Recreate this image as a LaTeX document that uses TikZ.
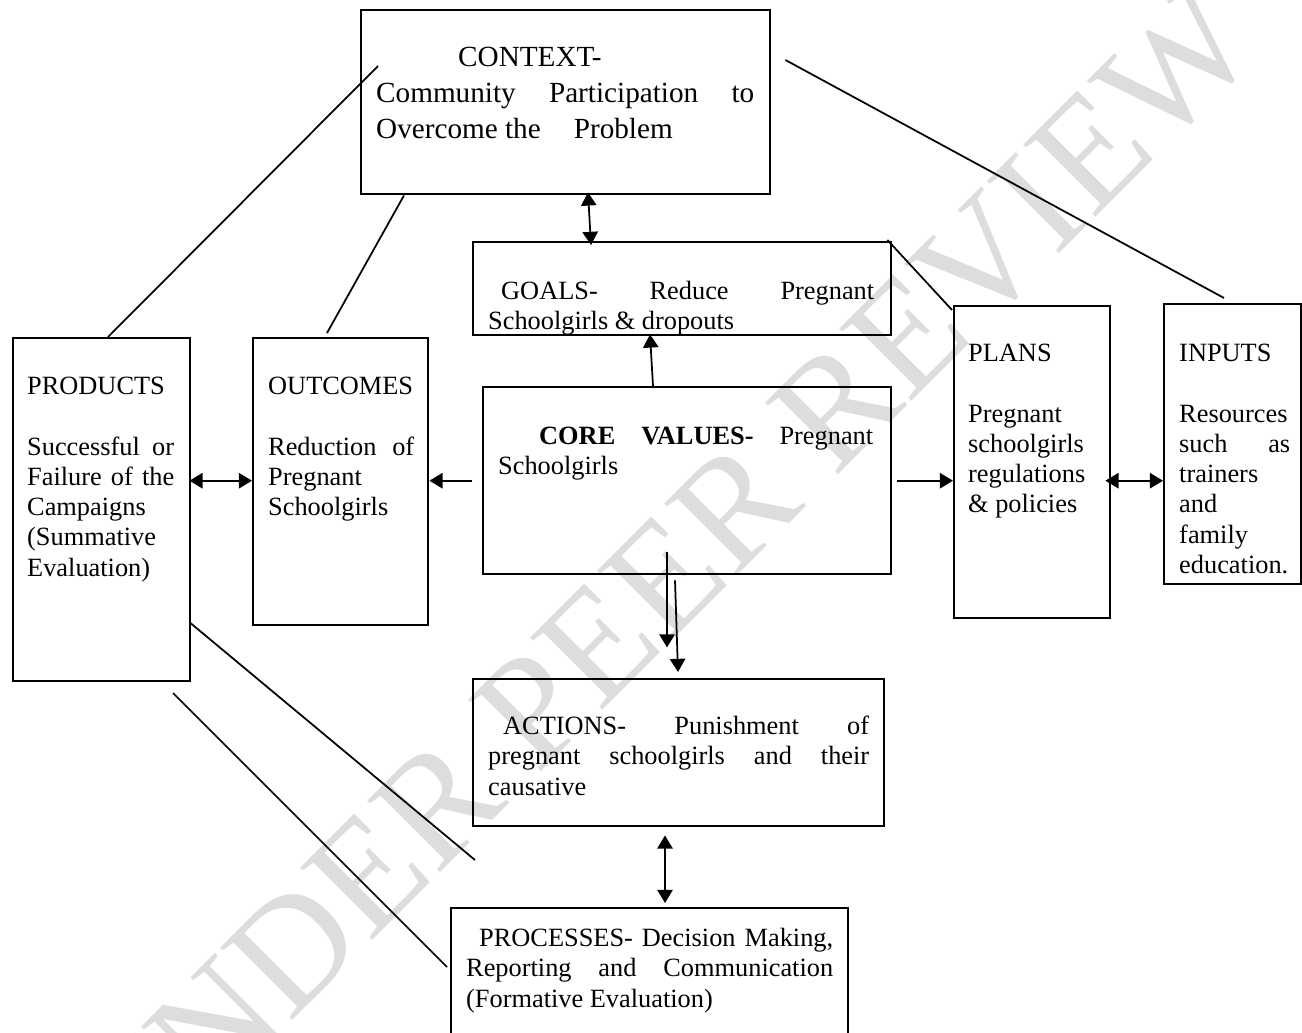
\documentclass[tikz,border=0pt]{standalone}
\usepackage{fontspec}
\setmainfont{Liberation Serif}
\usetikzlibrary{arrows.meta, calc}

\newdimen\px \px=0.016cm
\tolerance=10000
\hyphenpenalty=10000
\exhyphenpenalty=10000
\definecolor{wmgray}{RGB}{221,221,221}

% text inside a box: width, height, top space, left margin, right margin, text
\newcommand{\stagetext}[6]{%
  \begin{minipage}[t][#2\px][t]{#1\px}\vspace*{#3\px}\leftskip=#4\px\rightskip=#5\px
  \strut #6\end{minipage}}

\begin{document}
\begin{tikzpicture}[x=1\px, y=-1\px,
                    stage/.style={draw, line width=1.1pt, inner sep=0pt, anchor=north west, font=\fontsize{12}{13.8}\selectfont},
                    flow arrow/.style={-{Triangle[length=6pt,width=7pt]}, line width=0.8pt},
                    two way arrow/.style={{Triangle[length=6pt,width=7pt]}-{Triangle[length=6pt,width=7pt]}, line width=0.8pt},
                    link line/.style={line width=0.8pt},
                    watermark/.style={text=wmgray, font=\fontsize{71}{71}\selectfont, inner sep=0pt, rotate=45}]
  \useasboundingbox (0,0) rectangle (1302,1032);
  \node[watermark, anchor=base] (wm) at (697,616) {UNDER PEER REVIEW};

  \node[stage, font=\fontsize{13.3}{16.4}\selectfont] (ctx) at (360,9) {\stagetext{409}{184}{31}{15}{16}{%
    \hspace*{82\px}CONTEXT-\\ Community Participation to Overcome the\hspace{33\px}Problem}};
  \node[stage] (goals) at (472,241) {\stagetext{418}{93}{36}{15}{17}{%
    \hspace*{13\px}GOALS- Reduce Pregnant Schoolgirls \& dropouts}};
  \node[stage] (core) at (482,386) {\stagetext{408}{187}{36}{15}{18}{%
    \hspace*{41\px}\textbf{CORE VALUES-} Pregnant Schoolgirls}};
  \node[stage] (products) at (12,337) {\stagetext{177}{343}{35}{14}{16}{%
    PRODUCTS\par\strut\par Successful or Failure of the Campaigns (Summative Evaluation)}};
  \node[stage] (outcomes) at (252,337) {\stagetext{175}{287}{35}{15}{14}{%
    OUTCOMES\par\strut\par Reduction of\linebreak Pregnant Schoolgirls}};
  \node[stage] (plans) at (953,305) {\stagetext{156}{312}{34}{14}{14}{%
    PLANS\par\strut\par Pregnant schoolgirls regulations \& policies}};
  \node[stage] (inputs) at (1163,303) {\stagetext{137}{280}{36}{15}{11}{%
    INPUTS\par\strut\par Resources such as trainers and family education.}};
  \node[stage] (actions) at (472,678) {\stagetext{411}{147}{34}{15}{15}{%
    \hspace*{15\px}ACTIONS- Punishment of pregnant schoolgirls and their causative}};
  \node[stage] (processes) at (450,907) {\stagetext{397}{140}{17}{15}{15}{%
    \hspace*{13\px}PROCESSES- Decision Making, Reporting and Communication (Formative Evaluation)}};

  \coordinate (prod end) at (475,860);
  \coordinate (proc start) at (173,693);

  % arrows
  \draw[two way arrow] ($(ctx.south west)+(228,-3)$) -- ($(goals.north west)+(119,4)$);
  \draw[flow arrow] ($(core.north west)+(171,0)$) -- ($(goals.south west)+(178,-2)$);
  \draw[flow arrow] ($(core.west)+(-10,0)$) -- (core.west -| outcomes.east);
  \draw[flow arrow] ($(core.east)+(5,0)$) -- (core.east -| plans.west);
  \draw[two way arrow] ($(products.east |- core.west)+(-2,0)$) -- (outcomes.west |- core.west);
  \draw[two way arrow] ($(plans.east |- core.west)+(-6,0)$) -- (inputs.west |- core.west);
  \draw[flow arrow] ($(core.south west)+(185,-23)$) -- ($(core.south west)+(185,72)$);
  \draw[flow arrow] ($(core.south west)+(193,5)$) -- ($(actions.north west)+(206,-6)$);
  \draw[two way arrow] ($(actions.south west)+(193,8)$) -- ($(processes.north west)+(215,-4)$);

  % plain lines
  \draw[link line] ($(products.north west)+(96,0)$) -- ($(ctx.north west)+(18,57)$);
  \draw[link line] ($(outcomes.north west)+(75,-4)$) -- ($(ctx.south west)+(44,0)$);
  \draw[link line] ($(ctx.north east)+(14,51)$) -- ($(inputs.north west)+(61,-5)$);
  \draw[link line] ($(goals.north east)+(-5,-1)$) -- ($(plans.north west)+(-1,5)$);
  \draw[link line] ($(products.north east)+(-1,286)$) -- (prod end);
  \draw[link line] (proc start) -- ($(processes.north west)+(-3,60)$);
\end{tikzpicture}
\end{document}
